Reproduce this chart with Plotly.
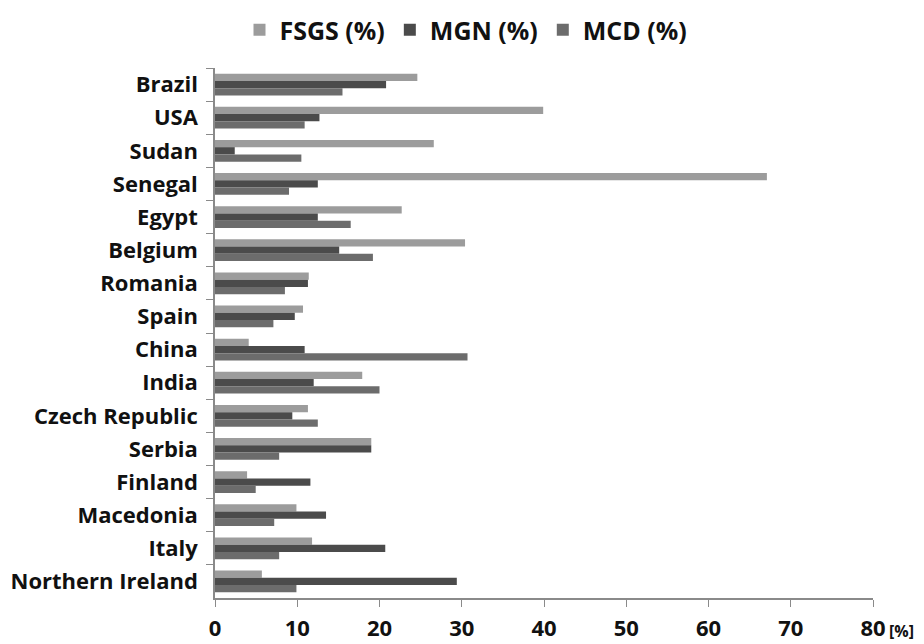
import plotly.graph_objects as go

countries = ["Brazil", "USA", "Sudan", "Senegal", "Egypt", "Belgium", "Romania", "Spain",
             "China", "India", "Czech Republic", "Serbia", "Finland", "Macedonia", "Italy",
             "Northern Ireland"]
fsgs = [24.6, 39.9, 26.6, 67.1, 22.7, 30.4, 11.4, 10.7, 4.1, 17.9, 11.3, 19.0, 3.9, 9.9, 11.8, 5.7]
mgn = [20.8, 12.7, 2.4, 12.5, 12.5, 15.1, 11.3, 9.7, 10.9, 12.0, 9.4, 19.0, 11.6, 13.5, 20.7, 29.4]
mcd = [15.5, 10.9, 10.5, 9.0, 16.5, 19.2, 8.5, 7.1, 30.7, 20.0, 12.5, 7.8, 4.95, 7.2, 7.8, 9.9]
x_ticks = [0, 10, 20, 30, 40, 50, 60, 70, 80]

series = [("FSGS (%)", fsgs, "#9c9c9c"), ("MGN (%)", mgn, "#4b4b4b"), ("MCD (%)", mcd, "#6c6c6c")]

FONT = "Open Sans"
W, H = 916, 636  # page body margin of 8px
fig = go.Figure()
for name, vals, col in series:
    fig.add_trace(go.Bar(y=countries, x=vals, name=name, orientation="h",
                         marker=dict(color=col, line=dict(width=0))))

fig.update_layout(
    width=W, height=H,
    margin=dict(l=207, r=51, t=60, b=46, autoexpand=False),
    barmode="group", bargap=0.34, bargroupgap=0,
    plot_bgcolor="white", paper_bgcolor="white",
    font=dict(family=FONT, size=19, color="#111111", weight="bold"),
    legend=dict(orientation="h", x=0.5, xanchor="center", xref="container",
                y=1 - 22 / H, yanchor="middle", yref="container",
                font=dict(size=25, family=FONT, weight="bold", color="#111111"),
                itemwidth=30, tracegroupgap=0),
    showlegend=True,
)
fig.update_xaxes(range=[0, 80], tickvals=x_ticks, ticks="outside", ticklen=7, tickcolor="#8a8a8a",
                 showline=True, linecolor="#8a8a8a", linewidth=1.5, showgrid=False, zeroline=False,
                 automargin=False, ticklabelstandoff=3,
                 tickfont=dict(size=22, family=FONT, weight="bold", color="#111111"))
fig.update_yaxes(autorange="reversed", ticks="outside", tickson="boundaries", ticklen=7,
                 tickcolor="#8a8a8a", showline=True, linecolor="#8a8a8a", linewidth=1.5,
                 showgrid=False, automargin=False, ticklabelstandoff=11,
                 tickfont=dict(size=22, family=FONT, weight="bold", color="#111111"))
fig.add_annotation(text="[%]", xref="paper", yref="paper", x=1.0, y=0, xanchor="left", yanchor="middle",
                   xshift=14, yshift=-33, showarrow=False,
                   font=dict(size=16, family=FONT, color="#111111"))
fig.write_html("out.html")
